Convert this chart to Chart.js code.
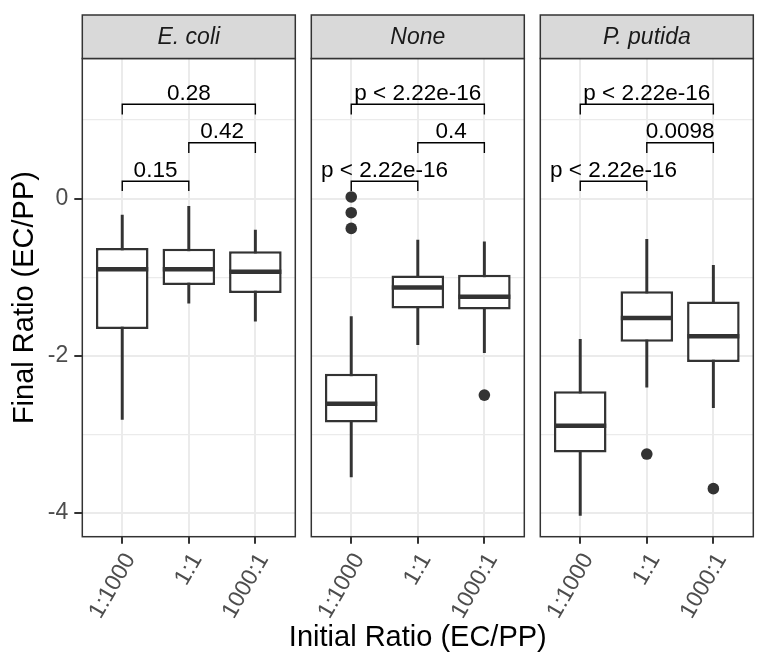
<!DOCTYPE html>
<html>
<head>
<meta charset="utf-8">
<script src="https://cdn.jsdelivr.net/npm/chart.js@4"></script>
<style>
    html, body { margin: 0; padding: 0; background: #fff; }
    #wrap { position: relative; width: 768px; height: 672px; overflow: hidden; }
    #wrap canvas { position: absolute; left: 0; top: 0; }
</style>
</head>
<body>
<div id="wrap">
    <canvas id="panel-0" width="768" height="672"></canvas>
    <canvas id="panel-1" width="768" height="672"></canvas>
    <canvas id="panel-2" width="768" height="672"></canvas>
</div>
<script>
// facets and x categories
const facets = ['E. coli', 'None', 'P. putida'];
const ratios = ['1:1000', '1:1', '1000:1'];
const ratioPos = [1, 2, 3];

// box statistics, one row per facet, one value per ratio
const whiskerLow  = [[-2.81, -1.33, -1.56], [-3.54, -1.86, -1.96], [-4.03, -2.40, -2.66]];
const q1          = [[-1.66, -1.10, -1.20], [-2.85, -1.40, -1.41], [-3.23, -1.82, -2.08]];
const median      = [[-0.90, -0.90, -0.93], [-2.61, -1.13, -1.25], [-2.89, -1.52, -1.75]];
const q3          = [[-0.63, -0.64, -0.67], [-2.23, -0.98, -0.97], [-2.45, -1.18, -1.31]];
const whiskerHigh = [[-0.21, -0.10, -0.40], [-1.50, -0.53, -0.55], [-1.79, -0.52, -0.85]];
const outliers = [
    [[], [], []],
    [[0.02, -0.18, -0.38], [], [-2.50]],
    [[], [-3.25], [-3.69]]
];

// pairwise comparison brackets
const bracketFrom = [1, 2, 1];
const bracketTo = [2, 3, 3];
const bracketY = [0.22, 0.71, 1.20];
const bracketTip = [0.095, 0.58, 1.07];
const pLabels = [
    ['0.15', '0.42', '0.28'],
    ['p < 2.22e-16', '0.4', 'p < 2.22e-16'],
    ['p < 2.22e-16', '0.0098', 'p < 2.22e-16']
];

const yTicks = [-4, -3, -2, -1, 0, 1];
const yLabelled = [-4, -2, 0];

// panel geometry (px); every chart gets the same layout and its canvas is shifted
const PANEL_LEFT = [82.3, 311.2, 540];
const PANEL_WIDTH = 213;
const PANEL_TOP = 58.5;
const PANEL_BOTTOM = 536.7;
const STRIP_TOP = 15;
const FONT = '"Liberation Sans", Arial, sans-serif';
const DARK = '#333333';

Chart.defaults.font.family = FONT;

const facetFrame = {
    id: 'facetFrame',
    afterDatasetsDraw(chart) {
        const k = chart.options.plugins.facetFrame.index;
        const { ctx } = chart;
        const xs = chart.scales.x, ys = chart.scales.y;
        ctx.save();
        ctx.fillStyle = '#000';
        ctx.font = '22.5px ' + FONT;
        ctx.textAlign = 'center';
        ctx.textBaseline = 'alphabetic';
        bracketY.forEach((y, j) => {
            const cx = xs.getPixelForValue((bracketFrom[j] + bracketTo[j]) / 2);
            ctx.fillText(pLabels[k][j], cx, ys.getPixelForValue(y) - 4.5);
        });
        ctx.restore();
    },
    afterDraw(chart) {
        const k = chart.options.plugins.facetFrame.index;
        const { ctx, chartArea: a } = chart;
        ctx.save();
        ctx.strokeStyle = DARK;
        ctx.lineWidth = 1.5;
        ctx.strokeRect(a.left, a.top, a.width, a.height);
        ctx.fillStyle = '#D9D9D9';
        ctx.fillRect(a.left, STRIP_TOP, a.width, a.top - STRIP_TOP);
        ctx.strokeRect(a.left, STRIP_TOP, a.width, a.top - STRIP_TOP);
        ctx.fillStyle = '#1A1A1A';
        ctx.font = 'italic 23px ' + FONT;
        ctx.textAlign = 'center';
        ctx.textBaseline = 'middle';
        ctx.fillText(facets[k], (a.left + a.right) / 2, (STRIP_TOP + a.top) / 2 + 1);
        // shared x-axis title, centred under the middle panel
        if (k === 1) {
            ctx.fillStyle = '#000';
            ctx.font = '29px ' + FONT;
            ctx.fillText('Initial Ratio (EC/PP)', (a.left + a.right) / 2, 638);
        }
        ctx.restore();
    }
};

function bracketDatasets() {
    return bracketY.map((y, j) => ({
        type: 'line',
        label: 'bracket ' + j,
        data: [
            { x: bracketFrom[j], y: bracketTip[j] },
            { x: bracketFrom[j], y: y },
            { x: bracketTo[j], y: y },
            { x: bracketTo[j], y: bracketTip[j] }
        ],
        borderColor: '#000',
        borderWidth: 1.4,
        pointRadius: 0,
        fill: false,
        tension: 0,
        order: 0
    }));
}

function makeChart(k) {
    const first = k === 0;
    const canvas = document.getElementById('panel-' + k);
    canvas.style.left = (PANEL_LEFT[k] - PANEL_LEFT[0]) + 'px';

    const datasets = [
        {
            type: 'bar',
            label: 'whisker',
            data: ratioPos.map((x, i) => ({ x, y: [whiskerLow[k][i], whiskerHigh[k][i]] })),
            backgroundColor: DARK,
            barThickness: 2.3,
            grouped: false,
            order: 4
        },
        {
            type: 'bar',
            label: 'box',
            data: ratioPos.map((x, i) => ({ x, y: [q1[k][i], q3[k][i]] })),
            backgroundColor: '#ffffff',
            borderColor: DARK,
            borderWidth: 2.5,
            borderSkipped: false,
            grouped: false,
            categoryPercentage: 1,
            barPercentage: 0.79,
            order: 3
        },
        {
            type: 'scatter',
            label: 'median',
            data: ratioPos.map((x, i) => ({ x, y: median[k][i] })),
            pointStyle: 'line',
            pointRadius: 26,
            pointBorderColor: DARK,
            pointBorderWidth: 4.5,
            order: 2
        },
        {
            type: 'scatter',
            label: 'outlier',
            data: outliers[k].flatMap((vals, i) => vals.map(y => ({ x: ratioPos[i], y }))),
            pointStyle: 'circle',
            pointRadius: 5.8,
            pointBackgroundColor: DARK,
            pointBorderWidth: 0,
            order: 1
        },
        ...bracketDatasets()
    ];

    return new Chart(canvas, {
        type: 'bar',
        data: { datasets },
        options: {
            responsive: false,
            animation: false,
            events: [],
            layout: {
                padding: { left: 0, top: PANEL_TOP, right: 768 - PANEL_LEFT[0] - PANEL_WIDTH, bottom: 0 }
            },
            plugins: {
                legend: { display: false },
                tooltip: { enabled: false },
                facetFrame: { index: k }
            },
            scales: {
                x: {
                    type: 'linear',
                    min: 0.4,
                    max: 3.6,
                    offset: false,
                    afterBuildTicks: s => { s.ticks = ratioPos.map(v => ({ value: v })); },
                    afterFit: s => {
                        s.height = 672 - PANEL_BOTTOM;
                        s.paddingLeft = 0;
                        s.paddingRight = 0;
                    },
                    ticks: {
                        autoSkip: false,
                        minRotation: 60,
                        maxRotation: 60,
                        padding: 5,
                        labelOffset: 8,
                        color: '#4D4D4D',
                        font: { size: 23 },
                        callback: v => ratios[ratioPos.indexOf(v)]
                    },
                    grid: {
                        offset: false,
                        color: '#EBEBEB',
                        lineWidth: 2,
                        tickLength: 7,
                        tickColor: DARK,
                        tickWidth: 2
                    },
                    border: { display: false },
                    title: { display: false }
                },
                y: {
                    min: -4.301,
                    max: 1.781,
                    afterBuildTicks: s => { s.ticks = yTicks.map(v => ({ value: v })); },
                    afterFit: s => {
                        s.width = PANEL_LEFT[0];
                        s.paddingTop = 0;
                        s.paddingBottom = 0;
                    },
                    ticks: {
                        display: first,
                        padding: 6,
                        color: '#4D4D4D',
                        font: { size: 23 },
                        callback: v => yLabelled.includes(v) ? String(v) : ''
                    },
                    grid: {
                        color: '#EBEBEB',
                        lineWidth: c => yLabelled.includes(c.tick.value) ? 2 : 1.2,
                        drawTicks: first,
                        tickLength: 8,
                        tickWidth: 2,
                        tickColor: c => yLabelled.includes(c.tick.value) ? DARK : 'rgba(0,0,0,0)'
                    },
                    border: { display: false },
                    title: {
                        display: first,
                        text: 'Final Ratio (EC/PP)',
                        color: '#000',
                        font: { size: 29 },
                        padding: { top: 8, bottom: 0 }
                    }
                }
            }
        },
        plugins: [facetFrame]
    });
}

facets.forEach((f, k) => makeChart(k));
</script>
</body>
</html>
